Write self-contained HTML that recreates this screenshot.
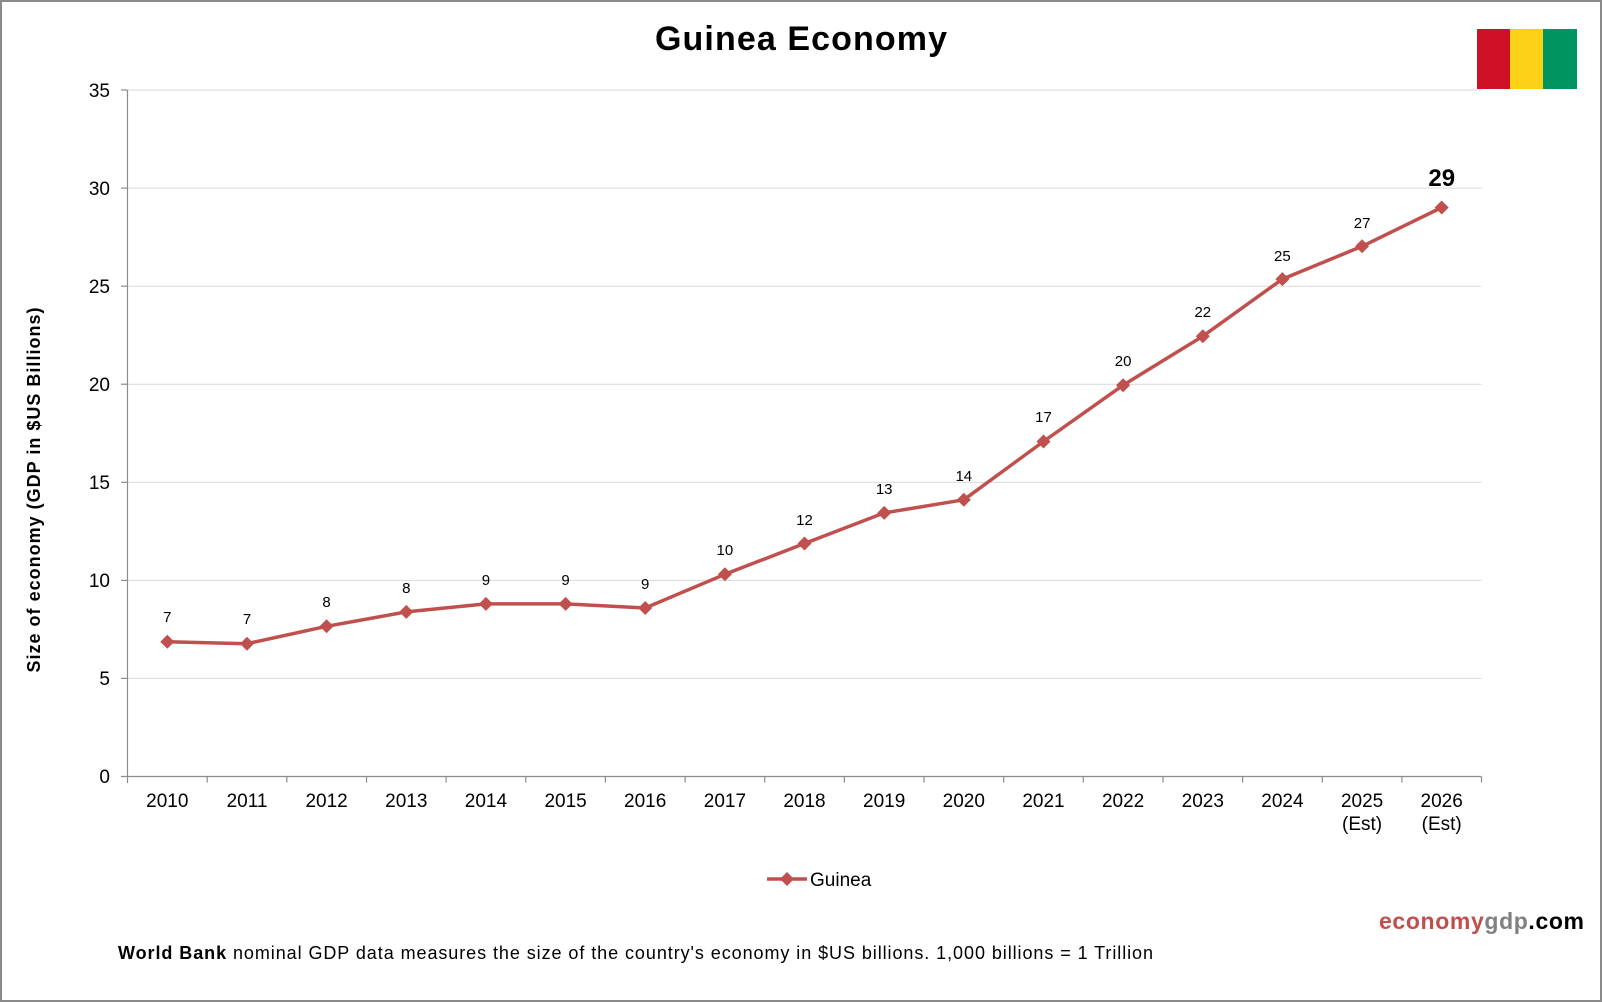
<!DOCTYPE html>
<html><head><meta charset="utf-8"><style>
html,body{margin:0;padding:0;background:#fff}
svg{display:block;font-family:"Liberation Sans",Arial,sans-serif}
</style></head><body>
<svg width="1602" height="1002" viewBox="0 0 1602 1002" xmlns="http://www.w3.org/2000/svg">
<rect x="1" y="1" width="1600" height="1000" fill="#fff" stroke="#8a8a8a" stroke-width="2"/>
<text x="801" y="50" text-anchor="middle" font-size="34" font-weight="bold" textLength="292" lengthAdjust="spacing">Guinea Economy</text>
<rect x="1477" y="29" width="34" height="60" fill="#ce1126"/>
<rect x="1510" y="29" width="34" height="60" fill="#fcd116"/>
<rect x="1543" y="29" width="34" height="60" fill="#009460"/>
<g stroke="#d9d9d9" stroke-width="1">
<line x1="127.5" x2="1481.5" y1="678.4" y2="678.4"/>
<line x1="127.5" x2="1481.5" y1="580.4" y2="580.4"/>
<line x1="127.5" x2="1481.5" y1="482.3" y2="482.3"/>
<line x1="127.5" x2="1481.5" y1="384.2" y2="384.2"/>
<line x1="127.5" x2="1481.5" y1="286.2" y2="286.2"/>
<line x1="127.5" x2="1481.5" y1="188.1" y2="188.1"/>
<line x1="127.5" x2="1481.5" y1="90" y2="90"/>
</g>
<g stroke="#8c8c8c" stroke-width="1.2">
<line x1="127.5" x2="127.5" y1="90" y2="783"/>
<line x1="121" x2="1481.5" y1="776.5" y2="776.5"/>
<line x1="121" x2="127.5" y1="678.4" y2="678.4"/><line x1="121" x2="127.5" y1="580.4" y2="580.4"/>
<line x1="121" x2="127.5" y1="482.3" y2="482.3"/><line x1="121" x2="127.5" y1="384.2" y2="384.2"/>
<line x1="121" x2="127.5" y1="286.2" y2="286.2"/><line x1="121" x2="127.5" y1="188.1" y2="188.1"/>
<line x1="121" x2="127.5" y1="90" y2="90"/>
<path d="M207.2 776.5v6M286.8 776.5v6M366.5 776.5v6M446.1 776.5v6M525.8 776.5v6M605.4 776.5v6M685.1 776.5v6M764.7 776.5v6M844.4 776.5v6M924 776.5v6M1003.7 776.5v6M1083.3 776.5v6M1163 776.5v6M1242.6 776.5v6M1322.3 776.5v6M1401.9 776.5v6M1481.5 776.5v6"/>
</g>
<g font-size="19" text-anchor="end">
<text x="110" y="783">0</text><text x="110" y="685">5</text><text x="110" y="587">10</text>
<text x="110" y="489">15</text><text x="110" y="391">20</text><text x="110" y="293">25</text>
<text x="110" y="195">30</text><text x="110" y="97">35</text>
</g>
<g font-size="19" text-anchor="middle">
<text x="167.3" y="807">2010</text><text x="247" y="807">2011</text><text x="326.6" y="807">2012</text>
<text x="406.3" y="807">2013</text><text x="485.9" y="807">2014</text><text x="565.6" y="807">2015</text>
<text x="645.2" y="807">2016</text><text x="724.9" y="807">2017</text><text x="804.5" y="807">2018</text>
<text x="884.2" y="807">2019</text><text x="963.8" y="807">2020</text><text x="1043.5" y="807">2021</text>
<text x="1123.1" y="807">2022</text><text x="1202.8" y="807">2023</text><text x="1282.4" y="807">2024</text>
<text x="1362.1" y="807">2025</text><text x="1441.7" y="807">2026</text>
<text x="1362.1" y="830">(Est)</text><text x="1441.7" y="830">(Est)</text>
</g>
<text transform="translate(40 490) rotate(-90)" text-anchor="middle" font-size="18" font-weight="bold" textLength="365" lengthAdjust="spacing">Size of economy (GDP in $US Billions)</text>
<polyline fill="none" stroke="#c0504d" stroke-width="3.5" stroke-linejoin="round" points="167.3,641.7 247,643.7 326.6,626.3 406.3,611.9 485.9,603.9 565.6,603.9 645.2,608 724.9,574.3 804.5,543.5 884.2,512.9 963.8,499.8 1043.5,441.5 1123.1,385.2 1202.8,336.2 1282.4,279.1 1362.1,246.3 1441.7,207.5"/>
<g fill="#c0504d">
<path d="M167.3 634.7l7 7-7 7-7-7z"/><path d="M247 636.7l7 7-7 7-7-7z"/>
<path d="M326.6 619.3l7 7-7 7-7-7z"/><path d="M406.3 604.9l7 7-7 7-7-7z"/>
<path d="M485.9 596.9l7 7-7 7-7-7z"/><path d="M565.6 596.9l7 7-7 7-7-7z"/>
<path d="M645.2 601l7 7-7 7-7-7z"/><path d="M724.9 567.3l7 7-7 7-7-7z"/>
<path d="M804.5 536.5l7 7-7 7-7-7z"/><path d="M884.2 505.9l7 7-7 7-7-7z"/>
<path d="M963.8 492.8l7 7-7 7-7-7z"/><path d="M1043.5 434.5l7 7-7 7-7-7z"/>
<path d="M1123.1 378.2l7 7-7 7-7-7z"/><path d="M1202.8 329.2l7 7-7 7-7-7z"/>
<path d="M1282.4 272.1l7 7-7 7-7-7z"/><path d="M1362.1 239.3l7 7-7 7-7-7z"/>
<path d="M1441.7 200.5l7 7-7 7-7-7z"/>
</g>
<g font-size="15" text-anchor="middle">
<text x="167.3" y="622">7</text><text x="247" y="624">7</text><text x="326.6" y="607">8</text>
<text x="406.3" y="593">8</text><text x="485.9" y="585">9</text><text x="565.6" y="585">9</text>
<text x="645.2" y="589">9</text><text x="724.9" y="555">10</text><text x="804.5" y="525">12</text>
<text x="884.2" y="494">13</text><text x="963.8" y="481">14</text><text x="1043.5" y="422">17</text>
<text x="1123.1" y="366">20</text><text x="1202.8" y="317">22</text><text x="1282.4" y="261">25</text>
<text x="1362.1" y="228">27</text>
</g>
<text x="1441.7" y="186" text-anchor="middle" font-size="24" font-weight="bold">29</text>
<line x1="767" x2="807" y1="879" y2="879" stroke="#c0504d" stroke-width="3.5"/>
<path d="M787 872l7 7-7 7-7-7z" fill="#c0504d"/>
<text x="810" y="886" font-size="19">Guinea</text>
<text x="1379" y="929" font-size="23" font-weight="bold" textLength="205" lengthAdjust="spacing"><tspan fill="#c0504d">economy</tspan><tspan fill="#808080">gdp</tspan><tspan fill="#000">.com</tspan></text>
<text x="118" y="959" font-size="18" textLength="1035" lengthAdjust="spacing"><tspan font-weight="bold">World Bank</tspan> nominal GDP data measures the size of the country's economy in $US billions. 1,000 billions = 1 Trillion</text>
</svg>
</body></html>
